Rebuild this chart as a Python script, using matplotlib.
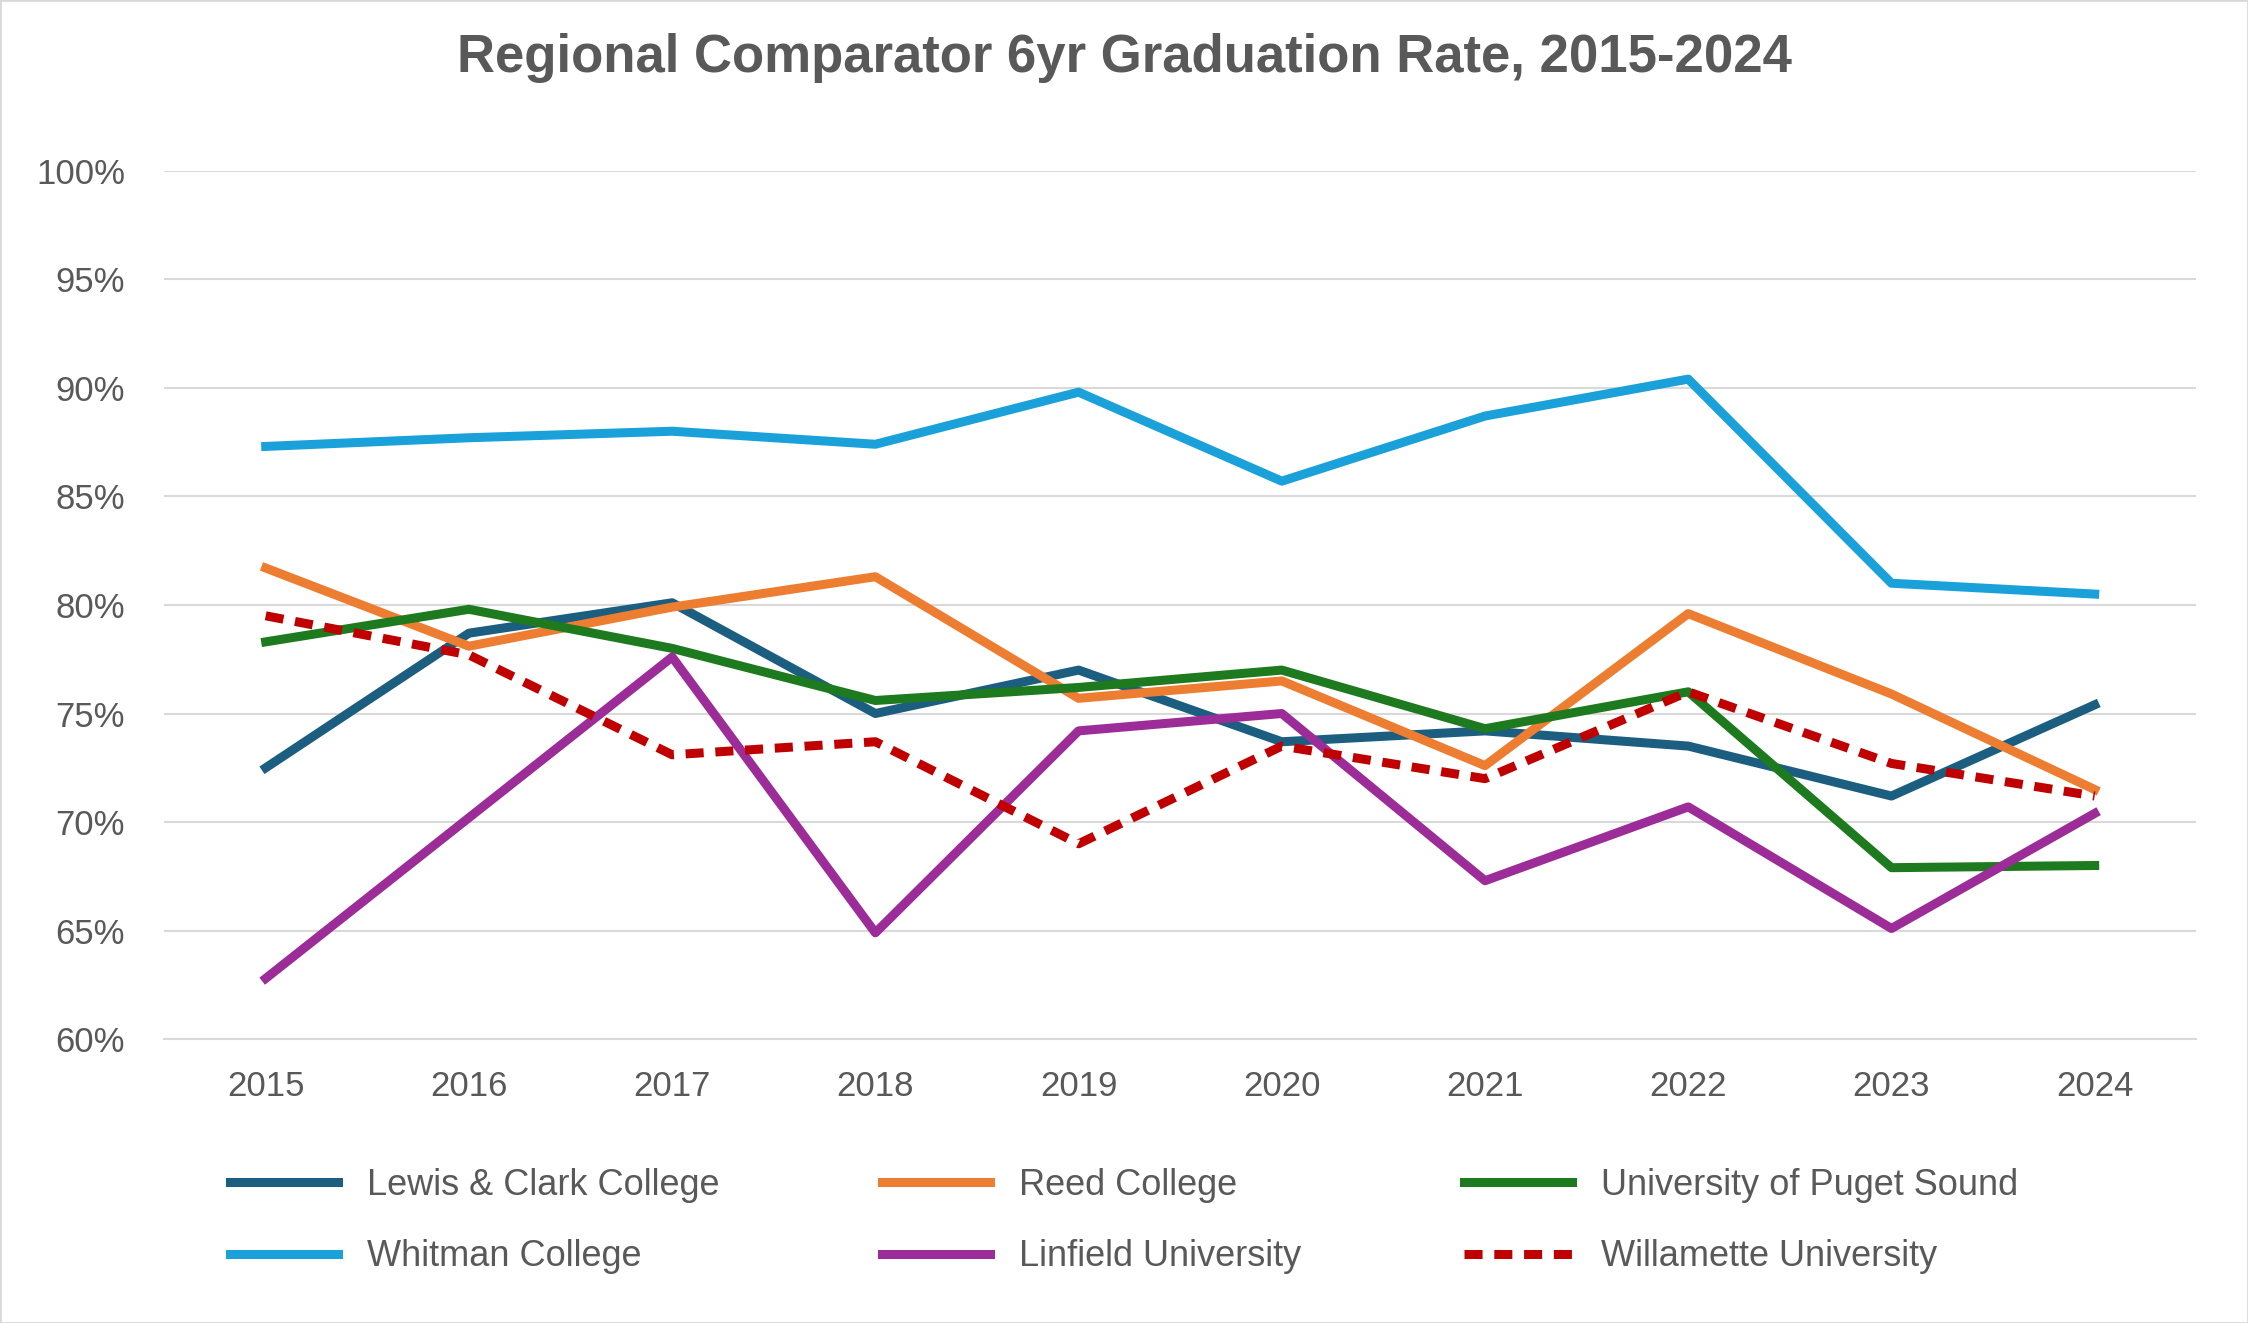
import matplotlib.pyplot as plt

years = [2015, 2016, 2017, 2018, 2019, 2020, 2021, 2022, 2023, 2024]
lewis_clark = [72.5, 78.7, 80.1, 75.0, 77.0, 73.7, 74.2, 73.5, 71.2, 75.4]
reed = [81.7, 78.1, 79.9, 81.3, 75.7, 76.5, 72.6, 79.6, 75.9, 71.5]
puget_sound = [78.3, 79.8, 78.0, 75.6, 76.2, 77.0, 74.3, 76.0, 67.9, 68.0]
whitman = [87.3, 87.7, 88.0, 87.4, 89.8, 85.7, 88.7, 90.4, 81.0, 80.5]
linfield = [62.8, 70.2, 77.6, 64.9, 74.2, 75.0, 67.3, 70.7, 65.1, 70.4]
willamette = [79.5, 77.7, 73.1, 73.7, 69.0, 73.5, 72.0, 76.0, 72.7, 71.2]

plt.rcParams['font.family'] = ['Liberation Sans', 'DejaVu Sans']

fig = plt.figure(figsize=(22.48, 13.23), dpi=100)
ax = fig.add_axes([0.073, 0.2145, 0.904, 0.6565])

lw = 6.5
h1, = ax.plot(years, lewis_clark, color='#1b5e80', lw=lw, label='Lewis & Clark College')
h2, = ax.plot(years, reed, color='#ed7d31', lw=lw, label='Reed College')
h3, = ax.plot(years, puget_sound, color='#1e7a1e', lw=lw, label='University of Puget Sound')
h4, = ax.plot(years, whitman, color='#1ba1d9', lw=lw, label='Whitman College')
h5, = ax.plot(years, linfield, color='#9c2c98', lw=lw, label='Linfield University')
h6, = ax.plot(years, willamette, color='#c00000', lw=lw, ls=(0, (2.0, 1.3)), label='Willamette University')

ax.set_ylim(60, 100)
ax.set_xlim(2014.5, 2024.5)
ax.set_yticks(range(60, 101, 5))
ax.set_yticklabels([f'{v}%' for v in range(60, 101, 5)])
ax.set_xticks(years)
ax.grid(axis='y', color='#d9d9d9', lw=1.5)
ax.set_axisbelow(True)
for s in ['top', 'right', 'left']:
    ax.spines[s].set_visible(False)
ax.spines['bottom'].set_color('#d9d9d9')
ax.spines['bottom'].set_linewidth(1.5)
ax.tick_params(length=0, labelsize=25, labelcolor='#595959', pad=22)
ax.tick_params(axis='y', pad=28)

fig.suptitle('Regional Comparator 6yr Graduation Rate, 2015-2024', y=0.975,
             fontsize=38, fontweight='bold', color='#595959')
handles = [h1, h4, h2, h5, h3, h6]
fig.legend(handles, [h.get_label() for h in handles], loc='center',
           bbox_to_anchor=(0.5, 0.077), ncol=3, frameon=False,
           fontsize=26, labelcolor='#595959', handlelength=3.0,
           columnspacing=4.5, labelspacing=1.0)

fig.patches.append(plt.Rectangle((0, 0), 1, 1, transform=fig.transFigure,
                                 fill=False, edgecolor='#d9d9d9', lw=2))
fig.savefig('out.png', dpi=100)
